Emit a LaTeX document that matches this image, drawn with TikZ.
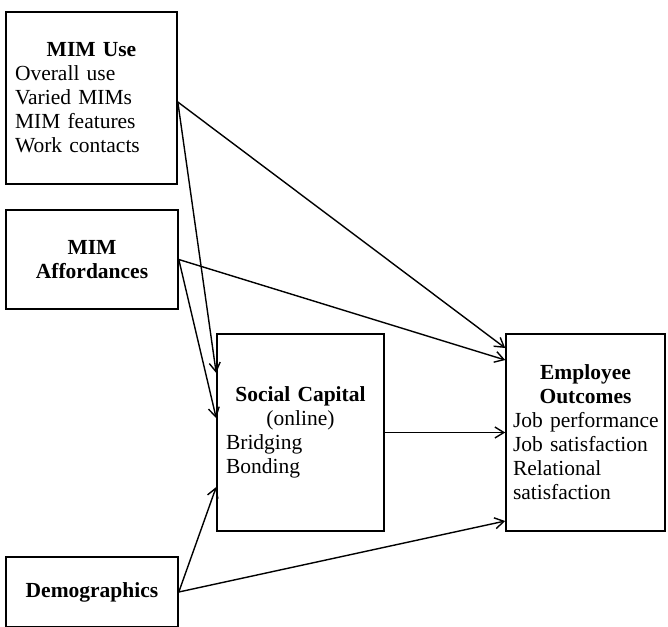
\documentclass[tikz,border=0pt]{standalone}
\usepackage{fontspec}
\setmainfont{Liberation Serif}
\usetikzlibrary{arrows.meta}
\newcommand{\ctr}[1]{\makebox[\linewidth]{#1}}

\begin{document}
\begin{tikzpicture}[
  x=1pt, y=-1pt,
  box/.style={draw, line width=1.6pt, inner xsep=9pt, inner ysep=0pt,
    font=\fontsize{21.5}{24}\selectfont},
  link/.style={-{Straight Barb[length=9pt,width=11pt]}, line width=1.4pt},
]
\useasboundingbox (0,0) rectangle (668,626);

% Boxes
\node[box, minimum width=171pt, minimum height=172pt, text width=153pt, align=left]
  (use) at (91.5,98) {\ctr{\textbf{MIM Use}}\\Overall use\\Varied MIMs\\MIM features\\Work contacts};
\node[box, minimum width=172pt, minimum height=99pt, text width=154pt, align=center]
  (aff) at (92,259.5) {\textbf{MIM}\\\textbf{Affordances}};
\node[box, minimum width=167pt, minimum height=197pt, text width=149pt, align=left]
  (sc) at (300.5,432.5) {\ctr{\textbf{Social Capital}}\\\ctr{(online)}\\Bridging\\Bonding};
\node[box, minimum width=159pt, minimum height=197pt, text width=145pt, inner xsep=7pt, align=left]
  (eo) at (585.5,432.5) {\ctr{\textbf{Employee}}\\\ctr{\textbf{Outcomes}}\\\mbox{Job performance}\\Job satisfaction\\Relational\\satisfaction};
\node[box, minimum width=172pt, minimum height=70pt, text width=154pt, align=center]
  (demo) at (92,592) {\textbf{Demographics}};

% Paths into social capital
\draw[link] ([yshift=-4pt]use.east) -- ([yshift=59.5pt]sc.west);
\draw[link] (aff.east) -- ([yshift=14.5pt]sc.west);
\draw[link] (demo.east) -- ([yshift=-54.5pt]sc.west);

% Paths into employee outcomes
\draw[link] ([yshift=-4pt]use.east) -- ([yshift=84.5pt]eo.west);
\draw[link] (aff.east) -- ([yshift=72.5pt]eo.west);
\draw[link] (sc.east) -- (eo.west);
\draw[link] (demo.east) -- ([yshift=-88.5pt]eo.west);

\end{tikzpicture}
\end{document}
